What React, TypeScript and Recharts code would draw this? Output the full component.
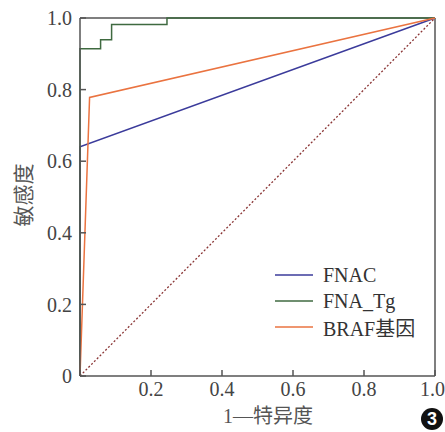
import { Legend, Line, LineChart, XAxis, YAxis, ReferenceLine } from "recharts";

const axisTicks = [0, 0.2, 0.4, 0.6, 0.8, 1.0];

// ROC points (x = 1 - specificity, y = sensitivity)
const fnacPoints = [
  { x: 0, y: 0 },
  { x: 0, y: 0.64 },
  { x: 1, y: 1 },
];

const fnaTgPoints = [
  { x: 0, y: 0 },
  { x: 0, y: 0.914 },
  { x: 0.058, y: 0.939 },
  { x: 0.089, y: 0.982 },
  { x: 0.245, y: 1 },
  { x: 1, y: 1 },
];

const brafPoints = [
  { x: 0, y: 0 },
  { x: 0.027, y: 0.778 },
  { x: 1, y: 1 },
];

const diagonalPoints = [
  { x: 0, y: 0 },
  { x: 1, y: 1 },
];

const series = [
  { name: "FNAC", color: "#3b3b9b" },
  { name: "FNA_Tg", color: "#3f6a40" },
  { name: "BRAF基因", color: "#ea7340" },
];

const serif = '"Liberation Serif", "Times New Roman", "Noto Sans CJK SC", serif';
const axisColor = "#555";

function LegendBox() {
  return (
    <div style={{ fontFamily: serif, fontSize: 20, color: "#333" }}>
      {series.map((s) => (
        <div key={s.name} style={{ display: "flex", alignItems: "center", height: 26 }}>
          <svg width={38} height={4} style={{ marginRight: 10 }}>
            <line x1={0} y1={2} x2={38} y2={2} stroke={s.color} strokeWidth={1.6} />
          </svg>
          <span>{s.name}</span>
        </div>
      ))}
    </div>
  );
}

export default function App() {
  return (
    <div style={{ position: "absolute", left: 0, top: 0, width: 445, height: 432, background: "#fff" }}>
      <LineChart width={445} height={432} margin={{ top: 18, right: 10, left: 0, bottom: 0 }}>
        <XAxis
          dataKey="x"
          type="number"
          domain={[0, 1]}
          ticks={axisTicks}
          allowDuplicatedCategory={false}
          height={56}
          tickSize={-6}
          tickMargin={12}
          tickFormatter={(v: number) => (v === 0 ? "" : v.toFixed(1))}
          stroke={axisColor}
          strokeWidth={1.5}
          tick={{ fill: "#444", fontSize: 20, fontFamily: serif }}
        />
        <YAxis
          dataKey="y"
          type="number"
          domain={[0, 1]}
          ticks={axisTicks}
          width={80}
          tickSize={-6}
          tickMargin={14}
          tickFormatter={(v: number) => (v === 0 ? "0" : v.toFixed(1))}
          stroke={axisColor}
          strokeWidth={1.5}
          tick={{ fill: "#444", fontSize: 20, fontFamily: serif }}
        />
        <ReferenceLine y={1} stroke={axisColor} strokeWidth={1.5} />
        <ReferenceLine x={1} stroke={axisColor} strokeWidth={1.5} />
        <Line
          data={diagonalPoints}
          dataKey="y"
          stroke="#8a3535"
          strokeWidth={1.3}
          strokeDasharray="2 2"
          dot={false}
          legendType="none"
          isAnimationActive={false}
        />
        <Line data={fnacPoints} dataKey="y" name="FNAC" stroke={series[0].color} strokeWidth={1.5} dot={false} isAnimationActive={false} />
        <Line
          data={fnaTgPoints}
          dataKey="y"
          name="FNA_Tg"
          type="stepAfter"
          stroke={series[1].color}
          strokeWidth={1.5}
          dot={false}
          isAnimationActive={false}
        />
        <Line data={brafPoints} dataKey="y" name="BRAF基因" stroke={series[2].color} strokeWidth={1.5} dot={false} isAnimationActive={false} />
        <Legend
          layout="vertical"
          align="center"
          verticalAlign="middle"
          content={<LegendBox />}
          wrapperStyle={{ left: 275, top: 262, width: 170 }}
        />
      </LineChart>
      <div
        style={{
          position: "absolute",
          left: 22,
          top: 195,
          transform: "translate(-50%, -50%) rotate(-90deg)",
          fontFamily: serif,
          fontSize: 21,
          color: "#555",
          whiteSpace: "nowrap",
        }}
      >
        敏感度
      </div>
      <div
        style={{
          position: "absolute",
          left: 268,
          top: 414,
          transform: "translate(-50%, -50%)",
          fontFamily: serif,
          fontSize: 20,
          color: "#555",
          whiteSpace: "nowrap",
        }}
      >
        1—特异度
      </div>
      <div
        style={{
          position: "absolute",
          left: 421,
          top: 408,
          width: 22,
          height: 22,
          borderRadius: "50%",
          background: "#111",
          color: "#fff",
          fontFamily: '"Liberation Sans", Arial, sans-serif',
          fontWeight: "bold",
          fontSize: 18,
          lineHeight: "22px",
          textAlign: "center",
        }}
      >
        3
      </div>
    </div>
  );
}
